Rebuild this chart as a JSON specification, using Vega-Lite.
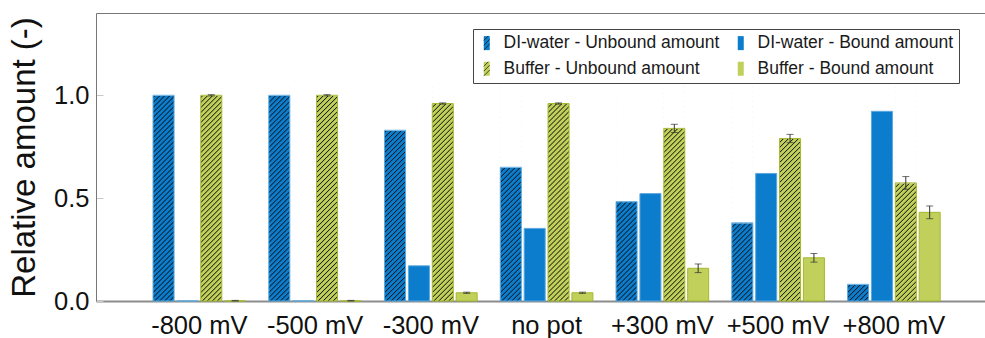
{
  "$schema": "https://vega.github.io/schema/vega-lite/v6.json",
  "width": 889,
  "height": 288,
  "autosize": {"type": "none"},
  "padding": {"left": 96, "top": 13, "right": 0, "bottom": 37},
  "background": "white",
  "config": {"view": {"stroke": null}, "font": "Liberation Sans",
    "axis": {"labelFont": "Liberation Sans", "titleFont": "Liberation Sans"},
    "axisY": {"labelFontSize": 25.5, "titleFontSize": 33, "titleFontWeight": "normal", "labelColor": "#111", "titleColor": "#111", "domainColor": "#777", "tickColor": "#c8c8c8", "tickSize": -7, "labelPadding": 14, "titlePadding": 12, "grid": false},
    "legend": {"labelFont": "Liberation Sans"}},
  "data": {"values": [
    {"g": "-800 mV", "s": "DI-water - Unbound amount", "v": 1.0},
    {"g": "-800 mV", "s": "DI-water - Bound amount", "v": 0},
    {"g": "-800 mV", "s": "Buffer - Unbound amount", "v": 1.0, "lo": 0.997, "hi": 1.003},
    {"g": "-800 mV", "s": "Buffer - Bound amount", "v": 0, "lo": 0, "hi": 0.003},
    {"g": "-500 mV", "s": "DI-water - Unbound amount", "v": 1.0},
    {"g": "-500 mV", "s": "DI-water - Bound amount", "v": 0},
    {"g": "-500 mV", "s": "Buffer - Unbound amount", "v": 1.0, "lo": 0.997, "hi": 1.003},
    {"g": "-500 mV", "s": "Buffer - Bound amount", "v": 0, "lo": 0, "hi": 0.003},
    {"g": "-300 mV", "s": "DI-water - Unbound amount", "v": 0.83},
    {"g": "-300 mV", "s": "DI-water - Bound amount", "v": 0.171},
    {"g": "-300 mV", "s": "Buffer - Unbound amount", "v": 0.96, "lo": 0.957, "hi": 0.963},
    {"g": "-300 mV", "s": "Buffer - Bound amount", "v": 0.04, "lo": 0.037, "hi": 0.043},
    {"g": "no pot", "s": "DI-water - Unbound amount", "v": 0.65},
    {"g": "no pot", "s": "DI-water - Bound amount", "v": 0.353},
    {"g": "no pot", "s": "Buffer - Unbound amount", "v": 0.96, "lo": 0.957, "hi": 0.963},
    {"g": "no pot", "s": "Buffer - Bound amount", "v": 0.04, "lo": 0.037, "hi": 0.043},
    {"g": "+300 mV", "s": "DI-water - Unbound amount", "v": 0.483},
    {"g": "+300 mV", "s": "DI-water - Bound amount", "v": 0.522},
    {"g": "+300 mV", "s": "Buffer - Unbound amount", "v": 0.839, "lo": 0.819, "hi": 0.859},
    {"g": "+300 mV", "s": "Buffer - Bound amount", "v": 0.159, "lo": 0.138, "hi": 0.18},
    {"g": "+500 mV", "s": "DI-water - Unbound amount", "v": 0.38},
    {"g": "+500 mV", "s": "DI-water - Bound amount", "v": 0.62},
    {"g": "+500 mV", "s": "Buffer - Unbound amount", "v": 0.79, "lo": 0.77, "hi": 0.81},
    {"g": "+500 mV", "s": "Buffer - Bound amount", "v": 0.21, "lo": 0.189, "hi": 0.231},
    {"g": "+800 mV", "s": "DI-water - Unbound amount", "v": 0.081},
    {"g": "+800 mV", "s": "DI-water - Bound amount", "v": 0.922},
    {"g": "+800 mV", "s": "Buffer - Unbound amount", "v": 0.574, "lo": 0.543, "hi": 0.605},
    {"g": "+800 mV", "s": "Buffer - Bound amount", "v": 0.431, "lo": 0.4, "hi": 0.462}
  ]},
  "resolve": {"axis": {"x": "independent"}},
  "layer": [
    {
      "mark": {"type": "bar"},
      "encoding": {
        "x": {"field": "g", "type": "nominal",
          "scale": {"domain": ["-800 mV", "-500 mV", "-300 mV", "no pot", "+300 mV", "+500 mV", "+800 mV"], "paddingInner": 0.2, "paddingOuter": 0.44, "align": 0.56},
          "axis": {"title": null, "orient": "bottom", "ticks": false, "labelFontSize": 25.5, "labelPadding": 12, "labelColor": "#111", "domainColor": "#8c8c8c", "domainWidth": 2, "labelAngle": 0}},
        "xOffset": {"field": "s", "type": "nominal",
          "scale": {"domain": ["DI-water - Unbound amount", "DI-water - Bound amount", "Buffer - Unbound amount", "Buffer - Bound amount"], "paddingInner": 0.12, "paddingOuter": 0}},
        "y": {"field": "v", "type": "quantitative",
          "scale": {"domain": [0, 1.4], "nice": false, "zero": true},
          "axis": {"title": "Relative amount (-)", "values": [0, 0.5, 1], "format": ".1f"}},
        "fill": {"field": "s", "type": "nominal",
          "scale": {"domain": ["DI-water - Unbound amount", "DI-water - Bound amount", "Buffer - Unbound amount", "Buffer - Bound amount"], "range": ["#0b7dcc", "#0b7dcc", "#c0d05a", "#c0d05a"]},
          "legend": {
            "title": null, "orient": "none", "legendX": 377, "legendY": 16, "columns": 2, "direction": "horizontal",
            "symbolType": "M-0.5,-1.1667H0.5V1.1667H-0.5Z", "symbolSize": 144, "symbolStrokeWidth": 0,
            "labelFontSize": 17.5, "labelColor": "#1a1a1a", "labelOffset": 8, "labelLimit": 400,
            "columnPadding": 12, "rowPadding": 7, "padding": 5, "strokeColor": "#444", "fillColor": "transparent",
            "labelExpr": "(indexof(datum.value, 'Buffer') === 0 ? '\u2002\u2002\u00a0' : '') + datum.label + (indexof(datum.value, 'Unbound') < 0 ? '\u2002\u2002' : '')"
          }}
      }
    },
    {
      "transform": [{"filter": "indexof(datum.s, 'Unbound') >= 0"}],
      "mark": {"type": "bar", "fill": {"gradient": "linear", "x1": 0, "y1": 0, "x2": 0.10568, "y2": 1.08695, "stops": [
        {"offset": 0.0059, "color": "#0000"}, {"offset": 0.0105, "color": "#111e"}, {"offset": 0.0152, "color": "#0000"},
        {"offset": 0.0270, "color": "#0000"}, {"offset": 0.0316, "color": "#111e"}, {"offset": 0.0363, "color": "#0000"},
        {"offset": 0.0481, "color": "#0000"}, {"offset": 0.0527, "color": "#111e"}, {"offset": 0.0574, "color": "#0000"},
        {"offset": 0.0692, "color": "#0000"}, {"offset": 0.0738, "color": "#111e"}, {"offset": 0.0785, "color": "#0000"},
        {"offset": 0.0903, "color": "#0000"}, {"offset": 0.0949, "color": "#111e"}, {"offset": 0.0996, "color": "#0000"},
        {"offset": 0.1114, "color": "#0000"}, {"offset": 0.1160, "color": "#111e"}, {"offset": 0.1207, "color": "#0000"},
        {"offset": 0.1325, "color": "#0000"}, {"offset": 0.1371, "color": "#111e"}, {"offset": 0.1418, "color": "#0000"},
        {"offset": 0.1536, "color": "#0000"}, {"offset": 0.1582, "color": "#111e"}, {"offset": 0.1629, "color": "#0000"},
        {"offset": 0.1747, "color": "#0000"}, {"offset": 0.1793, "color": "#111e"}, {"offset": 0.1840, "color": "#0000"},
        {"offset": 0.1958, "color": "#0000"}, {"offset": 0.2004, "color": "#111e"}, {"offset": 0.2051, "color": "#0000"},
        {"offset": 0.2169, "color": "#0000"}, {"offset": 0.2215, "color": "#111e"}, {"offset": 0.2262, "color": "#0000"},
        {"offset": 0.2380, "color": "#0000"}, {"offset": 0.2426, "color": "#111e"}, {"offset": 0.2473, "color": "#0000"},
        {"offset": 0.2591, "color": "#0000"}, {"offset": 0.2637, "color": "#111e"}, {"offset": 0.2684, "color": "#0000"},
        {"offset": 0.2802, "color": "#0000"}, {"offset": 0.2848, "color": "#111e"}, {"offset": 0.2895, "color": "#0000"},
        {"offset": 0.3013, "color": "#0000"}, {"offset": 0.3059, "color": "#111e"}, {"offset": 0.3105, "color": "#0000"},
        {"offset": 0.3224, "color": "#0000"}, {"offset": 0.3270, "color": "#111e"}, {"offset": 0.3316, "color": "#0000"},
        {"offset": 0.3435, "color": "#0000"}, {"offset": 0.3481, "color": "#111e"}, {"offset": 0.3527, "color": "#0000"},
        {"offset": 0.3646, "color": "#0000"}, {"offset": 0.3692, "color": "#111e"}, {"offset": 0.3738, "color": "#0000"},
        {"offset": 0.3857, "color": "#0000"}, {"offset": 0.3903, "color": "#111e"}, {"offset": 0.3949, "color": "#0000"},
        {"offset": 0.4068, "color": "#0000"}, {"offset": 0.4114, "color": "#111e"}, {"offset": 0.4160, "color": "#0000"},
        {"offset": 0.4278, "color": "#0000"}, {"offset": 0.4325, "color": "#111e"}, {"offset": 0.4371, "color": "#0000"},
        {"offset": 0.4489, "color": "#0000"}, {"offset": 0.4536, "color": "#111e"}, {"offset": 0.4582, "color": "#0000"},
        {"offset": 0.4700, "color": "#0000"}, {"offset": 0.4747, "color": "#111e"}, {"offset": 0.4793, "color": "#0000"},
        {"offset": 0.4911, "color": "#0000"}, {"offset": 0.4958, "color": "#111e"}, {"offset": 0.5004, "color": "#0000"},
        {"offset": 0.5122, "color": "#0000"}, {"offset": 0.5169, "color": "#111e"}, {"offset": 0.5215, "color": "#0000"},
        {"offset": 0.5333, "color": "#0000"}, {"offset": 0.5380, "color": "#111e"}, {"offset": 0.5426, "color": "#0000"},
        {"offset": 0.5544, "color": "#0000"}, {"offset": 0.5591, "color": "#111e"}, {"offset": 0.5637, "color": "#0000"},
        {"offset": 0.5755, "color": "#0000"}, {"offset": 0.5802, "color": "#111e"}, {"offset": 0.5848, "color": "#0000"},
        {"offset": 0.5966, "color": "#0000"}, {"offset": 0.6013, "color": "#111e"}, {"offset": 0.6059, "color": "#0000"},
        {"offset": 0.6177, "color": "#0000"}, {"offset": 0.6224, "color": "#111e"}, {"offset": 0.6270, "color": "#0000"},
        {"offset": 0.6388, "color": "#0000"}, {"offset": 0.6435, "color": "#111e"}, {"offset": 0.6481, "color": "#0000"},
        {"offset": 0.6599, "color": "#0000"}, {"offset": 0.6646, "color": "#111e"}, {"offset": 0.6692, "color": "#0000"},
        {"offset": 0.6810, "color": "#0000"}, {"offset": 0.6857, "color": "#111e"}, {"offset": 0.6903, "color": "#0000"},
        {"offset": 0.7021, "color": "#0000"}, {"offset": 0.7068, "color": "#111e"}, {"offset": 0.7114, "color": "#0000"},
        {"offset": 0.7232, "color": "#0000"}, {"offset": 0.7278, "color": "#111e"}, {"offset": 0.7325, "color": "#0000"},
        {"offset": 0.7443, "color": "#0000"}, {"offset": 0.7489, "color": "#111e"}, {"offset": 0.7536, "color": "#0000"},
        {"offset": 0.7654, "color": "#0000"}, {"offset": 0.7700, "color": "#111e"}, {"offset": 0.7747, "color": "#0000"},
        {"offset": 0.7865, "color": "#0000"}, {"offset": 0.7911, "color": "#111e"}, {"offset": 0.7958, "color": "#0000"},
        {"offset": 0.8076, "color": "#0000"}, {"offset": 0.8122, "color": "#111e"}, {"offset": 0.8169, "color": "#0000"},
        {"offset": 0.8287, "color": "#0000"}, {"offset": 0.8333, "color": "#111e"}, {"offset": 0.8380, "color": "#0000"},
        {"offset": 0.8498, "color": "#0000"}, {"offset": 0.8544, "color": "#111e"}, {"offset": 0.8591, "color": "#0000"},
        {"offset": 0.8709, "color": "#0000"}, {"offset": 0.8755, "color": "#111e"}, {"offset": 0.8802, "color": "#0000"},
        {"offset": 0.8920, "color": "#0000"}, {"offset": 0.8966, "color": "#111e"}, {"offset": 0.9013, "color": "#0000"},
        {"offset": 0.9131, "color": "#0000"}, {"offset": 0.9177, "color": "#111e"}, {"offset": 0.9224, "color": "#0000"},
        {"offset": 0.9342, "color": "#0000"}, {"offset": 0.9388, "color": "#111e"}, {"offset": 0.9435, "color": "#0000"},
        {"offset": 0.9553, "color": "#0000"}, {"offset": 0.9599, "color": "#111e"}, {"offset": 0.9646, "color": "#0000"},
        {"offset": 0.9764, "color": "#0000"}, {"offset": 0.9810, "color": "#111e"}, {"offset": 0.9857, "color": "#0000"}
      ]}},
      "encoding": {
        "x": {"field": "g", "type": "nominal", "axis": null},
        "xOffset": {"field": "s", "type": "nominal"},
        "y": {"datum": 0, "type": "quantitative", "axis": {"title": "Relative amount (-)", "values": [0, 0.5, 1], "format": ".1f"}},
        "y2": {"datum": 1.05}
      }
    },
    {
      "transform": [{"filter": "indexof(datum.s, 'Unbound') >= 0"}],
      "mark": {"type": "bar", "fill": "white", "stroke": "white", "strokeWidth": 1},
      "encoding": {
        "x": {"field": "g", "type": "nominal", "axis": null},
        "xOffset": {"field": "s", "type": "nominal"},
        "y": {"field": "v", "type": "quantitative", "axis": {"title": "Relative amount (-)", "values": [0, 0.5, 1], "format": ".1f"}},
        "y2": {"datum": 1.05}
      }
    },
    {
      "mark": {"type": "bar", "fill": "transparent", "strokeWidth": 1},
      "encoding": {
        "x": {"field": "g", "type": "nominal", "axis": {"orient": "top", "labels": false, "ticks": false, "title": null, "domainColor": "#777", "domainWidth": 1}},
        "xOffset": {"field": "s", "type": "nominal"},
        "y": {"field": "v", "type": "quantitative", "axis": {"title": "Relative amount (-)", "values": [0, 0.5, 1], "format": ".1f"}},
        "stroke": {"field": "s", "type": "nominal", "legend": null,
          "scale": {"domain": ["DI-water - Unbound amount", "DI-water - Bound amount", "Buffer - Unbound amount", "Buffer - Bound amount"], "range": ["#5ba8de", "#5ba8de", "#a6b82f", "#a6b82f"]}}
      }
    },
    {
      "transform": [{"filter": "isValid(datum.lo)"}],
      "mark": {"type": "rule", "color": "#333", "strokeWidth": 1},
      "encoding": {
        "x": {"field": "g", "type": "nominal", "axis": null},
        "xOffset": {"field": "s", "type": "nominal"},
        "y": {"field": "lo", "type": "quantitative", "axis": {"title": "Relative amount (-)", "values": [0, 0.5, 1], "format": ".1f"}},
        "y2": {"field": "hi"}
      }
    },
    {
      "transform": [{"filter": "isValid(datum.lo)"}],
      "mark": {"type": "tick", "color": "#333", "size": 7, "thickness": 1},
      "encoding": {
        "x": {"field": "g", "type": "nominal", "axis": null},
        "xOffset": {"field": "s", "type": "nominal"},
        "y": {"field": "lo", "type": "quantitative", "axis": {"title": "Relative amount (-)", "values": [0, 0.5, 1], "format": ".1f"}}
      }
    },
    {
      "transform": [{"filter": "isValid(datum.lo)"}],
      "mark": {"type": "tick", "color": "#333", "size": 7, "thickness": 1},
      "encoding": {
        "x": {"field": "g", "type": "nominal", "axis": null},
        "xOffset": {"field": "s", "type": "nominal"},
        "y": {"field": "hi", "type": "quantitative", "axis": {"title": "Relative amount (-)", "values": [0, 0.5, 1], "format": ".1f"}}
      }
    },
    {
      "transform": [{"filter": "false"}],
      "mark": {"type": "point", "color": "#111", "strokeWidth": 1, "filled": false},
      "encoding": {
        "shape": {"field": "s", "type": "nominal",
          "scale": {"domain": ["Buffer - Unbound amount", "DI-water - Unbound amount", "Buffer - Bound amount", "DI-water - Bound amount"],
            "range": ["M-0.5,-0.4L0.2667,-1.1667M-0.5,0.4L0.5,-0.6M-0.4667,1.1667L0.5,0.2", "M-0.5,-0.4L0.2667,-1.1667M-0.5,0.4L0.5,-0.6M-0.4667,1.1667L0.5,0.2", "M0,0", "M0,0"]},
          "legend": {
            "values": ["DI-water - Unbound amount", "DI-water - Bound amount", "Buffer - Unbound amount", "Buffer - Bound amount"],
            "title": null, "orient": "none", "legendX": 377, "legendY": 16, "columns": 2, "direction": "horizontal",
            "symbolSize": 144, "symbolStrokeWidth": 1, "symbolStrokeColor": "#111", "symbolFillColor": "transparent",
            "labelFontSize": 17.5, "labelColor": "transparent", "labelOffset": 8, "labelLimit": 400,
            "columnPadding": 12, "rowPadding": 7, "padding": 5, "strokeColor": "transparent", "fillColor": "transparent",
            "labelExpr": "(indexof(datum.value, 'Buffer') === 0 ? '\u2002\u2002\u00a0' : '') + datum.label + (indexof(datum.value, 'Unbound') < 0 ? '\u2002\u2002' : '')"
          }}
      }
    }
  ]
}
